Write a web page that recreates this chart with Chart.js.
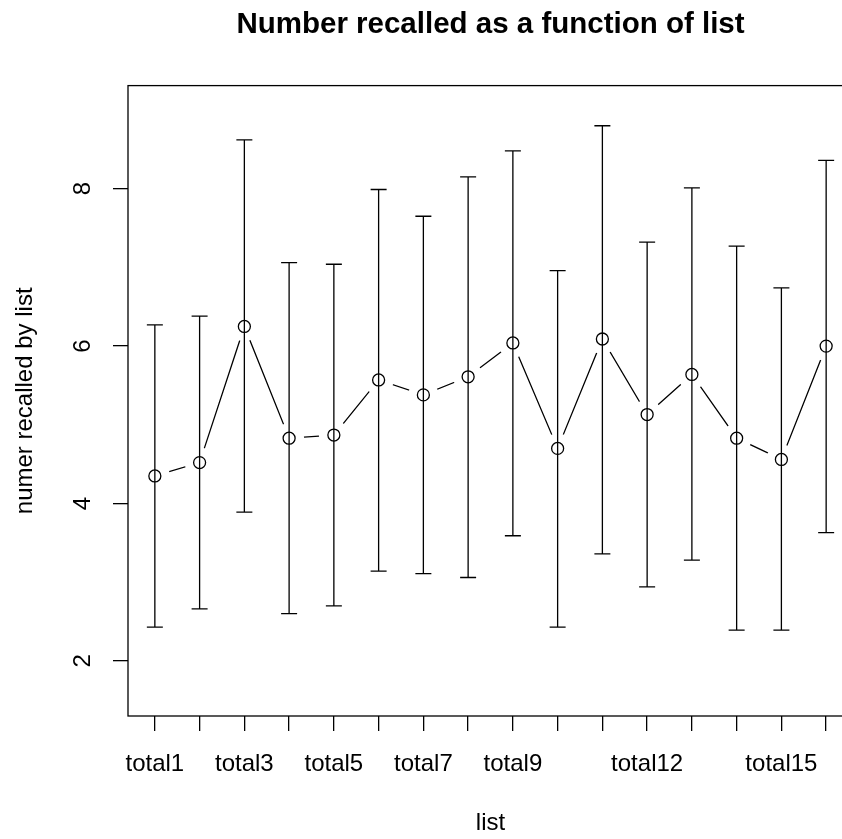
<!DOCTYPE html>
<html>
<head>
<meta charset="utf-8">
<script src="https://cdn.jsdelivr.net/npm/chart.js@4.4.0/dist/chart.umd.min.js"></script>
<style>
  html, body { margin: 0; padding: 0; background: #fff; overflow: hidden; }
  #wrap { width: 980px; height: 839px; }
</style>
</head>
<body>
<div id="wrap"><canvas id="canvas" width="980" height="839"></canvas></div>
<script>
// data
var categories = ['total1', 'total2', 'total3', 'total4', 'total5', 'total6', 'total7', 'total8',
                  'total9', 'total10', 'total11', 'total12', 'total13', 'total14', 'total15', 'total16'];
var shownLabels = ['total1', 'total3', 'total5', 'total7', 'total9', 'total12', 'total15'];
var means = [4.35, 4.52, 6.25, 4.83, 4.87, 5.57, 5.38, 5.61, 6.04, 4.70, 6.09, 5.13, 5.64, 4.83, 4.56, 6.00];
var upper = [6.27, 6.38, 8.62, 7.06, 7.04, 7.99, 7.65, 8.15, 8.48, 6.96, 8.80, 7.32, 8.01, 7.27, 6.74, 8.36];
var lower = [2.43, 2.66, 3.89, 2.60, 2.70, 3.14, 3.11, 3.06, 3.59, 2.43, 3.36, 2.94, 3.28, 2.39, 2.39, 3.63];
var yTicks = [2, 4, 6, 8];

var points = means.map(function(v, i) { return {x: i + 1, y: v}; });

var FONT = "'Liberation Sans', Arial, sans-serif";

// error bars drawn through the chart's own scales
var errorBars = {
    id: 'errorBars',
    afterDatasetDraw: function(chart, args) {
        if (args.index !== 1) return;
        var ctx = chart.ctx, xs = chart.scales.x, ys = chart.scales.y;
        ctx.save();
        ctx.strokeStyle = '#000';
        ctx.lineWidth = 1.3;
        for (var i = 0; i < means.length; i++) {
            var px = xs.getPixelForValue(i + 1);
            var top = ys.getPixelForValue(upper[i]);
            var bot = ys.getPixelForValue(lower[i]);
            ctx.beginPath();
            ctx.moveTo(px, top); ctx.lineTo(px, bot);
            ctx.moveTo(px - 8, top); ctx.lineTo(px + 8, top);
            ctx.moveTo(px - 8, bot); ctx.lineTo(px + 8, bot);
            ctx.stroke();
        }
        ctx.restore();
    }
};

var plotBox = {
    id: 'plotBox',
    afterDraw: function(chart) {
        var a = chart.chartArea, ctx = chart.ctx;
        ctx.save();
        ctx.strokeStyle = '#000';
        ctx.lineWidth = 1.3;
        ctx.strokeRect(a.left, a.top, a.right - a.left, a.bottom - a.top);
        ctx.restore();
    }
};

var config = {
    type: 'line',
    data: {
        datasets: [{
            data: points,
            borderColor: '#000',
            borderWidth: 1.3,
            pointRadius: 0,
            fill: false,
            order: 3
        }, {
            data: points,
            showLine: false,
            pointRadius: 15,
            pointBackgroundColor: '#fff',
            pointBorderWidth: 0,
            pointBorderColor: '#fff',
            order: 2
        }, {
            data: points,
            showLine: false,
            pointRadius: 6,
            pointBackgroundColor: 'rgba(0,0,0,0)',
            pointBorderColor: '#000',
            pointBorderWidth: 1.3,
            order: 1
        }]
    },
    options: {
        responsive: false,
        animation: false,
        layout: { padding: { left: 0, right: 127, top: 0, bottom: 0 } },
        plugins: {
            legend: { display: false },
            tooltip: { enabled: false },
            title: {
                display: true,
                fullSize: false,
                text: 'Number recalled as a function of list',
                color: '#000',
                font: { family: FONT, size: 29.5, weight: 'bold' },
                padding: { top: 7.6, bottom: 42.6 }
            }
        },
        scales: {
            x: {
                type: 'linear',
                min: 0.4,
                max: 16.6,
                afterBuildTicks: function(scale) {
                    scale.ticks = categories.map(function(c, i) { return {value: i + 1}; });
                },
                afterFit: function(scale) { scale.height = 123; },
                border: { display: false },
                grid: { drawOnChartArea: false, drawTicks: true, tickLength: 15, color: '#000', lineWidth: 1.3 },
                ticks: {
                    autoSkip: false,
                    maxRotation: 0,
                    color: '#000',
                    padding: 19,
                    font: { family: FONT, size: 24 },
                    callback: function(v) {
                        var name = categories[v - 1];
                        return shownLabels.indexOf(name) >= 0 ? name : '';
                    }
                },
                title: {
                    display: true,
                    text: 'list',
                    color: '#000',
                    font: { family: FONT, size: 24 },
                    padding: { top: 0, bottom: 1 }
                }
            },
            y: {
                type: 'linear',
                min: 1.3,
                max: 9.31,
                afterBuildTicks: function(scale) {
                    scale.ticks = yTicks.map(function(v) { return {value: v}; });
                },
                afterFit: function(scale) { scale.width = 128; },
                border: { display: false },
                grid: { drawOnChartArea: false, drawTicks: true, tickLength: 15, color: '#000', lineWidth: 1.3 },
                ticks: {
                    color: '#000',
                    minRotation: 90,
                    maxRotation: 90,
                    crossAlign: 'center',
                    padding: 23,
                    font: { family: FONT, size: 24 }
                },
                title: {
                    display: true,
                    text: 'numer recalled by list',
                    color: '#000',
                    font: { family: FONT, size: 24 },
                    padding: { top: 11, bottom: 0 }
                }
            }
        }
    },
    plugins: [errorBars, plotBox]
};

window.onload = function() {
    window.myChart = new Chart(document.getElementById('canvas'), config);
};
</script>
</body>
</html>
